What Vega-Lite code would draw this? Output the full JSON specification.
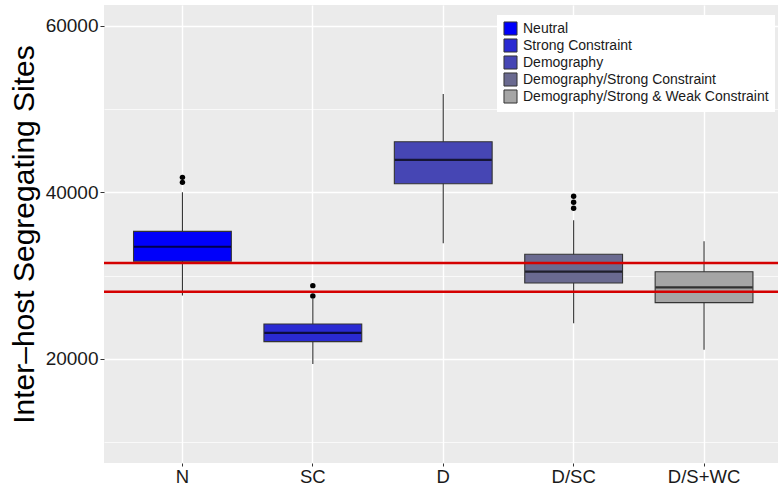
{
  "$schema": "https://vega.github.io/schema/vega-lite/v6.json",
  "width": 674,
  "height": 458,
  "autosize": {"type": "none"},
  "padding": {"left": 104, "top": 5, "right": 0, "bottom": 23},
  "background": "white",
  "datasets": {
    "stats": [
      {"cat": "N", "group": "Neutral", "lower": 27600, "q1": 31720, "median": 33470, "q3": 35320, "upper": 40000},
      {"cat": "SC", "group": "Strong Constraint", "lower": 19400, "q1": 22080, "median": 23120, "q3": 24200, "upper": 27200},
      {"cat": "D", "group": "Demography", "lower": 33880, "q1": 41030, "median": 43910, "q3": 46070, "upper": 51800},
      {"cat": "D/SC", "group": "Demography/Strong Constraint", "lower": 24280, "q1": 29120, "median": 30470, "q3": 32560, "upper": 36640},
      {"cat": "D/S+WC", "group": "Demography/Strong & Weak Constraint", "lower": 21100, "q1": 26760, "median": 28600, "q3": 30470, "upper": 34120}
    ],
    "outliers": [
      {"cat": "N", "value": 41800},
      {"cat": "N", "value": 41200},
      {"cat": "SC", "value": 28800},
      {"cat": "SC", "value": 27560},
      {"cat": "D/SC", "value": 39520},
      {"cat": "D/SC", "value": 38800},
      {"cat": "D/SC", "value": 38080}
    ],
    "refs": [
      {"level": 31520},
      {"level": 28070}
    ]
  },
  "config": {
    "view": {"fill": "#EBEBEB", "stroke": null},
    "font": "Liberation Sans",
    "axis": {"domain": false, "labelFont": "Liberation Sans", "titleFont": "Liberation Sans"}
  },
  "encoding": {
    "x": {
      "field": "cat",
      "type": "nominal",
      "sort": ["N", "SC", "D", "D/SC", "D/S+WC"],
      "scale": {"type": "band", "domain": ["N", "SC", "D", "D/SC", "D/S+WC"], "paddingInner": 0.25, "paddingOuter": 0.2093, "align": 0.541},
      "axis": {
        "title": null,
        "labelAngle": 0,
        "labelFontSize": 18.5,
        "labelColor": "#1a1a1a",
        "labelPadding": 1,
        "tickSize": 3,
        "tickColor": "#333333",
        "tickWidth": 1,
        "grid": true,
        "gridColor": "white",
        "gridWidth": 1.4,
        "bandPosition": 0.5
      }
    }
  },
  "layer": [
    {
      "data": {"name": "stats"},
      "mark": {"type": "rule", "color": "#333333", "strokeWidth": 1.1},
      "encoding": {
        "y": {
          "field": "lower",
          "type": "quantitative",
          "title": "Inter–host Segregating Sites",
          "scale": {"domain": [7500, 62500], "nice": false, "zero": false},
          "axis": {
            "values": [10000, 20000, 30000, 40000, 50000, 60000],
            "format": "d",
            "labelExpr": "datum.value % 20000 === 0 ? datum.label : ''",
            "labelFontSize": 19,
            "labelColor": "#1a1a1a",
            "labelPadding": 2,
            "tickSize": 4,
            "tickColor": "#333333",
            "tickOpacity": {"condition": {"test": "datum.value % 20000 === 0", "value": 1}, "value": 0},
            "grid": true,
            "gridColor": "white",
            "gridWidth": {"condition": {"test": "datum.value % 20000 === 0", "value": 1.4}, "value": 0.7},
            "titleFontSize": 30,
            "titleFontWeight": "normal",
            "titleColor": "black",
            "titleX": -80,
            "titleY": 229,
            "titleAngle": -90,
            "titleAlign": "center",
            "titleBaseline": "middle"
          }
        },
        "y2": {"field": "upper"}
      }
    },
    {
      "data": {"name": "stats"},
      "mark": {"type": "bar", "stroke": "#333333", "strokeWidth": 1.1},
      "encoding": {
        "y": {"field": "q1", "type": "quantitative", "title": "Inter–host Segregating Sites"},
        "y2": {"field": "q3"},
        "fill": {
          "field": "group",
          "type": "nominal",
          "scale": {
            "domain": ["Neutral", "Strong Constraint", "Demography", "Demography/Strong Constraint", "Demography/Strong & Weak Constraint"],
            "range": ["#0000FA", "#2A2AD2", "#4646B4", "#6A6A90", "#A5A5A5"]
          },
          "legend": {
            "title": null,
            "orient": "none",
            "legendX": 393,
            "legendY": 10,
            "fillColor": "white",
            "padding": 6,
            "symbolType": "square",
            "symbolSize": 170,
            "symbolStrokeColor": "#333333",
            "symbolStrokeWidth": 1,
            "labelFontSize": 14,
            "labelColor": "#1a1a1a",
            "labelFont": "Liberation Sans",
            "labelOffset": 5,
            "rowPadding": -2.2,
            "labelLimit": 400
          }
        }
      }
    },
    {
      "data": {"name": "stats"},
      "mark": {"type": "tick", "color": "black", "thickness": 2.2, "size": 97},
      "encoding": {
        "y": {"field": "median", "type": "quantitative", "title": "Inter–host Segregating Sites"}
      }
    },
    {
      "data": {"name": "outliers"},
      "mark": {"type": "point", "filled": true, "color": "black", "opacity": 1, "size": 30},
      "encoding": {
        "y": {"field": "value", "type": "quantitative", "title": "Inter–host Segregating Sites"}
      }
    },
    {
      "data": {"name": "refs"},
      "mark": {"type": "rule", "color": "#D40000", "strokeWidth": 2.6},
      "encoding": {
        "x": {"value": 0},
        "x2": {"value": 674},
        "y": {"field": "level", "type": "quantitative", "title": "Inter–host Segregating Sites"}
      }
    }
  ]
}
